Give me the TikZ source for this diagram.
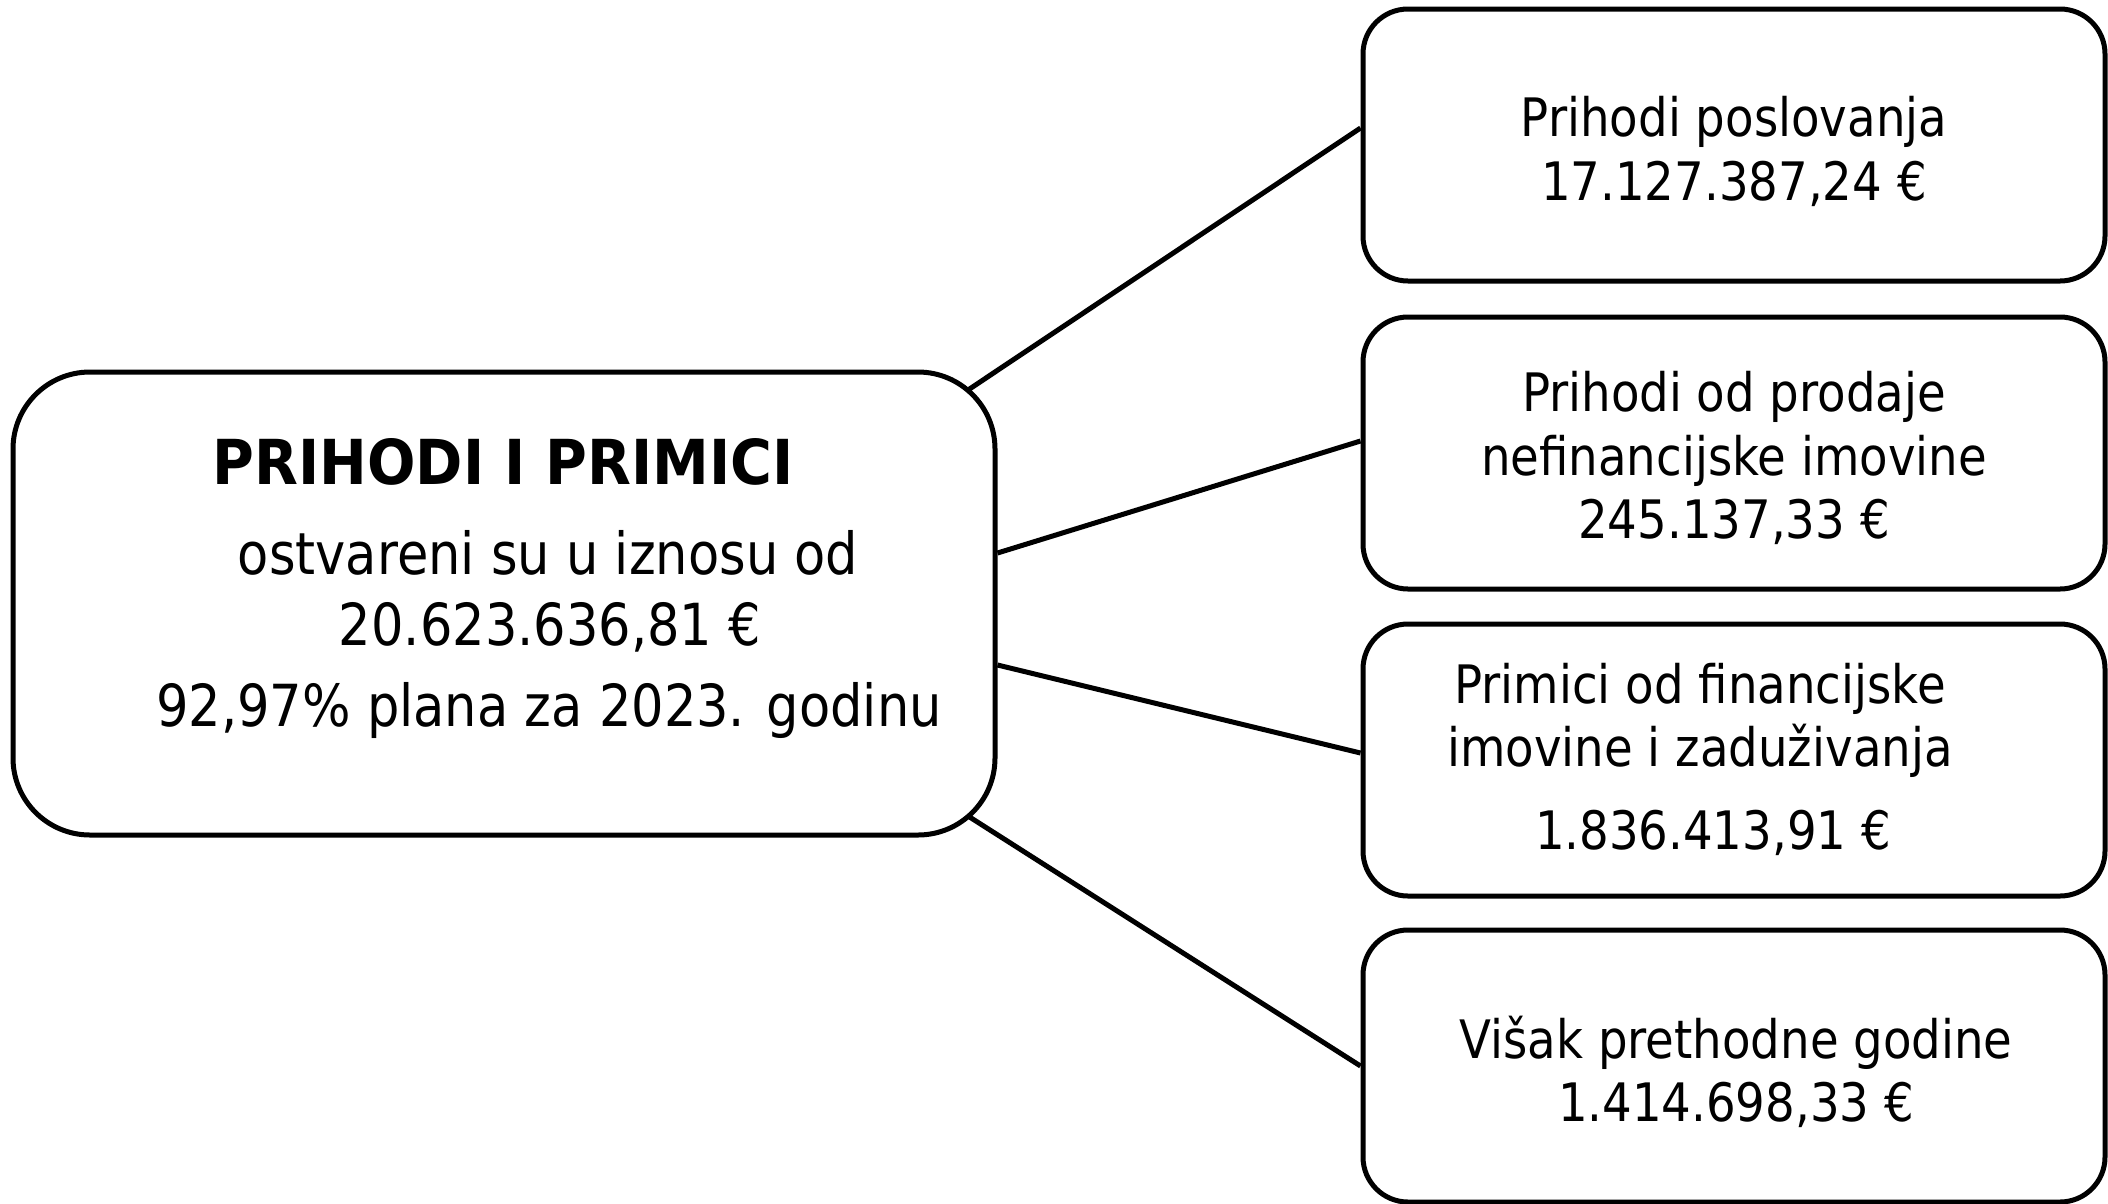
\documentclass[tikz,border=0pt]{standalone}
\usepackage{fontspec}
\setmainfont{DejaVu Sans}[FakeStretch=0.88]
\newfontfamily\headfont{DejaVu Sans}[FakeStretch=0.92]
\begin{document}
\begin{tikzpicture}[x=1pt,y=-1pt,
  box/.style={draw=black,line width=5pt,rounded corners=45pt,minimum width=742pt,minimum height=272pt,inner sep=0pt},
  mainbox/.style={draw=black,line width=5pt,rounded corners=77pt,minimum width=982pt,minimum height=463pt,inner sep=0pt},
  conn/.style={draw=black,line width=5pt},
  txt/.style={anchor=base,inner sep=0pt,font=\fontsize{53}{62}\selectfont},
  mtxt/.style={anchor=base,inner sep=0pt,font=\fontsize{58}{68}\selectfont},
  htxt/.style={anchor=base,inner sep=0pt,font=\headfont\bfseries\fontsize{62}{68}\selectfont}]
\useasboundingbox (0,0) rectangle (2108,1203);
\node[mainbox] (main) at (504,603.5) {};
\node[box] (b1) at (1734,145) {};
\node[box] (b2) at (1734,453) {};
\node[box] (b3) at (1734,760) {};
\node[box] (b4) at (1734,1066) {};
% main texts
\node[htxt] (t0) at (503,484) {PRIHODI I PRIMICI};
\node[mtxt] (t1) at (548,574) {ostvareni su u iznosu od};
\node[mtxt] (t2) at (550,645) {20.623.636,81 €};
\node[mtxt] (t3) at (549,726) {92,97\% plana za 2023. godinu};
% box texts
\node[txt] (p1) at (1734,136) {Prihodi poslovanja};
\node[txt] (p2) at (1734,200) {17.127.387,24 €};
\node[txt] (q1) at (1734,411) {Prihodi od prodaje};
\node[txt] (q2) at (1734,475) {nefinancijske imovine};
\node[txt] (q3) at (1734,538) {245.137,33 €};
\node[txt] (r1) at (1700,703) {Primici od financijske};
\node[txt] (r2) at (1700,766) {imovine i zaduživanja};
\node[txt] (r3) at (1713,849) {1.836.413,91 €};
\node[txt] (s1) at (1736,1058) {Višak prethodne godine};
\node[txt] (s2) at (1736,1121) {1.414.698,33 €};
% connectors
\coordinate (m1) at (968,390);
\coordinate (m4) at (968,816);
\draw[conn] (m1) -- ([yshift=17pt]b1.west);
\draw[conn] ([yshift=50.5pt]main.east) -- ([yshift=12pt]b2.west);
\draw[conn] ([yshift=-61.5pt]main.east) -- ([yshift=7pt]b3.west);
\draw[conn] (m4) -- (b4.west);
\end{tikzpicture}
\end{document}
